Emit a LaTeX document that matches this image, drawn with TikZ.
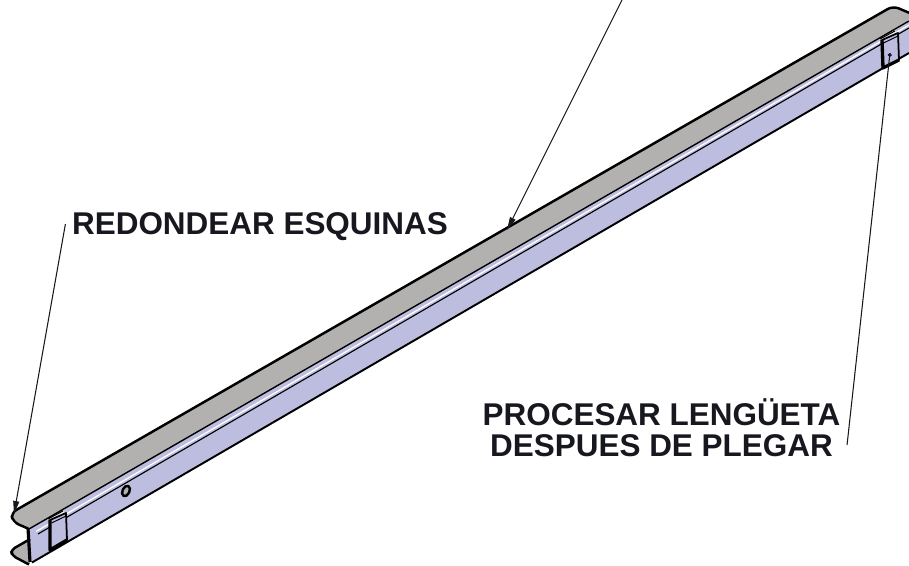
\documentclass[tikz,border=0pt]{standalone}
\usepackage{fontspec}
\setmainfont{Liberation Sans}
\usepackage{tkz-euclide}
\usetikzlibrary{arrows.meta, positioning}
\definecolor{flangeGrey}{HTML}{B3B1AF}
\definecolor{webBlue}{HTML}{BDBDE0}
\definecolor{inkBlack}{HTML}{17171F}
\tikzset{
  callout/.style={font=\bfseries\fontsize{8.95}{8.9}\selectfont, text=inkBlack, align=center, inner sep=.06cm},
  leader/.style={draw=inkBlack, line width=.3pt},
  edge/.style={draw=black, line width=.55pt, line join=round},
}
\begin{document}
\begin{tikzpicture}
  \useasboundingbox (0,0) rectangle (9.09,5.66);
  \clip (0,0) rectangle (9.09,5.66);
  % upper flange
  \tkzDefPoints{.13/.44/FA, .11/.53/FB, 8.93/5.60/FC, 9.12/5.52/FD, 9.09/5.45/FE, .29/.37/FF}
  % web
  \tkzDefPoints{.28/.38/WA, 9.09/5.44/WB, 9.09/5.13/WC, .32/.035/WD, .30/.04/WE}
  % lower flange
  \tkzDefPoints{.25/.24/LA, .11/.16/LB, .12/.105/LC, .29/.015/LD, .30/.04/LE, .30/.27/LF}
  % white and black lines under the flange
  \tkzDefPoints{.36/.345/SA, 9.09/5.41/SB, .38/.32/SC, 9.09/5.38/SD}
  % tabs
  \tkzDefPoints{.50/.46/TA, .66/.53/TB, .67/.26/TC, .50/.16/TD, .515/.43/TE, .66/.50/TF, .48/.47/TG, .63/.55/TH}
  \tkzDefPoints{8.82/5.26/RA, 8.98/5.33/RB, 8.99/5.06/RC, 8.83/4.98/RD, 8.835/5.23/RE, 8.98/5.30/RF, 8.80/5.27/RG, 8.95/5.35/RH}
  % leaders
  \tkzDefPoints{.14/.52/tipEsquinas, 5.07/3.36/tipPliegue, 6.22/5.66/topPliegue, 8.90/5.13/tipLengueta}

  \fill[webBlue] (WA) -- (WB) -- (WC) -- (WD) -- (WE) -- cycle;
  \fill[flangeGrey] (LA) -- (LB) -- (LC) -- (LD) -- (LE) -- (LF) -- cycle;
  \draw[edge, line width=.7pt, rounded corners=.04cm] (LF) -- (LA) -- (LB) -- (LC) -- (LD);
  \draw[edge, line width=.9pt] (WE) -- (WA);
  \draw[edge, line width=.55pt] (WD) -- (WC);
  \fill[flangeGrey, rounded corners=.06cm] (FA) -- (FB) -- (FC) -- (FD) -- (FE) -- (FF) -- cycle;
  \draw[edge, rounded corners=.06cm, line width=.7pt] (FF) -- (FA) -- (FB) -- (FC) -- (FD);
  \draw[edge, line width=.4pt] (FF) -- (FE);
  \draw[edge, line width=.32pt] (SC) -- (SD);
  \draw[white, line width=.36pt] (SA) -- (SB);

  \fill[white!80!flangeGrey] (TG) -- (TH) -- (TB) -- (TA) -- cycle;
  \filldraw[edge, fill=webBlue, line width=.5pt] (TA) -- (TB) -- (TC) -- (TD) -- cycle;
  \draw[edge, line width=.95pt] (TA) -- (TD) -- (TC);
  \draw[edge, line width=.28pt] (TE) -- (TF);
  \draw[edge, line width=.28pt] (TG) -- (TH);
  \fill[white!80!flangeGrey] (RG) -- (RH) -- (RB) -- (RA) -- cycle;
  \filldraw[edge, fill=webBlue, line width=.5pt] (RA) -- (RB) -- (RC) -- (RD) -- cycle;
  \draw[edge, line width=.95pt] (RA) -- (RD) -- (RC);
  \draw[edge, line width=.28pt] (RE) -- (RF);
  \draw[edge, line width=.28pt] (RG) -- (RH);
  \filldraw[edge, fill=flangeGrey, line width=.7pt, rotate around={-25:(1.26,.75)}] (1.26,.75) ellipse (.035 and .055);

  \node[callout] (esquinas) at (2.60,3.39) {REDONDEAR ESQUINAS};
  \node[callout] (lengueta) at (6.615,1.38) {PROCESAR LENGÜETA\\DESPUES DE PLEGAR};

  \draw[leader, -{Triangle[length=.13cm, width=.06cm]}] ([yshift=.03cm]esquinas.west) -- (tipEsquinas);
  \draw[leader, -{Triangle[length=.13cm, width=.06cm]}] (topPliegue) -- (tipPliegue);
  \draw[leader, -{Circle[length=.04cm]}] ([yshift=-.17cm]lengueta.east) -- (tipLengueta);
\end{tikzpicture}
\end{document}
